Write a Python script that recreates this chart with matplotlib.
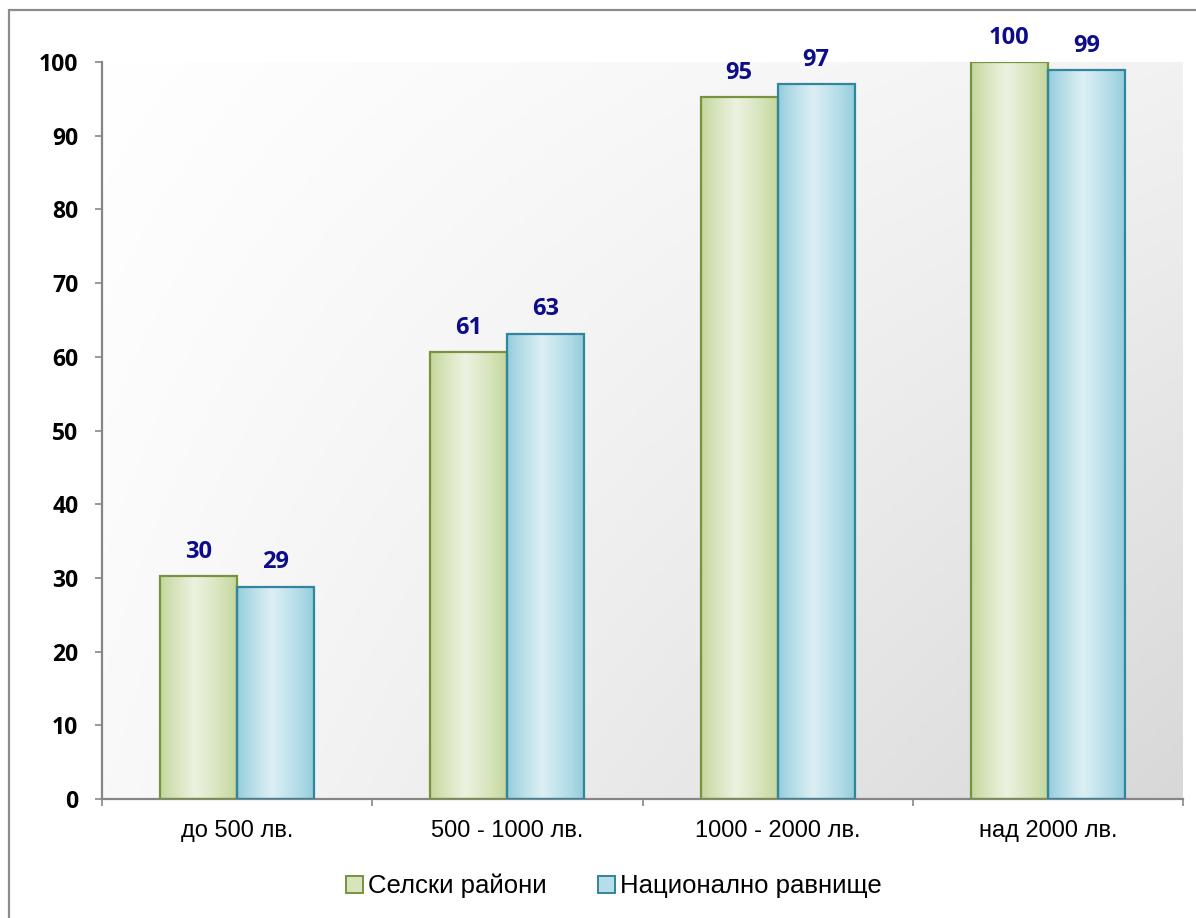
import matplotlib
matplotlib.use("Agg")
import matplotlib.pyplot as plt
import matplotlib.patches as mpatches
import numpy as np

categories = ["до 500 лв.", "500 - 1000 лв.", "1000 - 2000 лв.", "над 2000 лв."]
series_names = ["Селски райони", "Национално равнище"]
rural = [30.2, 60.6, 95.2, 100.0]
national = [28.8, 63.1, 97.0, 98.9]
yticks = [0, 10, 20, 30, 40, 50, 60, 70, 80, 90, 100]

W, H = 1196, 918
fig = plt.figure(figsize=(W / 100, H / 100), dpi=100)
fig.patch.set_facecolor("white")

NUMFONT = ["Open Sans", "DejaVu Sans"]
TXTFONT = ["Liberation Sans", "DejaVu Sans"]

# outer border (only left/top visible)
fig.add_artist(mpatches.Rectangle((9 / W, -0.05), 1.2, 1 - 10 / H + 0.05,
                                  transform=fig.transFigure, fill=False,
                                  edgecolor="#8c8c8c", linewidth=1.6))

left, right, bottom, top = 102 / W, 1183 / W, 1 - 799 / H, 1 - 62 / H
ax = fig.add_axes([left, bottom, right - left, top - bottom])
ax.set_xlim(-0.5, 3.5)
ax.set_ylim(0, 100)

# plot-area gradient background (bilinear)
nx, ny = 200, 200
u = np.linspace(0, 1, nx)[None, :]
v = np.linspace(0, 1, ny)[:, None]  # 0 bottom, 1 top (origin lower)
tl, tr, bl, br = 255, 242, 249, 216
val = (tl * (1 - u) * v + tr * u * v + bl * (1 - u) * (1 - v) + br * u * (1 - v)) / 255.0
bg = np.dstack([val, val, val])
ax.imshow(bg, extent=[-0.5, 3.5, 0, 100], origin="lower", aspect="auto", zorder=0)

x = np.arange(len(categories))
w = 0.285


def grad_img(edge, center, peak=0.45, n=200):
    t = np.linspace(0, 1, n)
    f = np.where(t < peak, t / peak, (1 - t) / (1 - peak))
    f = np.clip(f, 0, 1) ** 0.8
    edge = np.array(edge) / 255.0
    center = np.array(center) / 255.0
    cols = edge[None, :] * (1 - f[:, None]) + center[None, :] * f[:, None]
    return cols[None, :, :]


green_img = grad_img((193, 213, 150), (236, 242, 224))
blue_img = grad_img((143, 203, 220), (220, 239, 244))

series = [
    (rural, -w / 2, green_img, "#77933c", "#d7e4bd"),
    (national, w / 2, blue_img, "#31859c", "#b7dde8"),
]

label_color = "#0d0d8a"
for vals, off, img, ec, legc in series:
    bars = ax.bar(x + off, vals, width=w, facecolor="none", edgecolor=ec,
                  linewidth=1.6, zorder=3)
    for b, val_ in zip(bars, vals):
        bx, bw, bh = b.get_x(), b.get_width(), b.get_height()
        ax.imshow(img, extent=[bx, bx + bw, 0, bh], aspect="auto",
                  origin="lower", zorder=2, interpolation="bilinear")
        ax.annotate(f"{round(val_):.0f}", (bx + bw / 2, bh), xytext=(0, 9),
                    textcoords="offset points", ha="center", va="bottom",
                    fontsize=17, fontweight="bold", color=label_color,
                    family=NUMFONT)

ax.set_xlim(-0.5, 3.5)
ax.set_ylim(0, 100)

for s in ["top", "right"]:
    ax.spines[s].set_visible(False)
for s in ["left", "bottom"]:
    ax.spines[s].set_color("#868686")
    ax.spines[s].set_linewidth(1.6)

ax.set_yticks(yticks)
ax.set_yticklabels([str(t) for t in yticks], fontsize=16.5, fontweight="bold",
                   family=NUMFONT)
ax.tick_params(axis="y", length=5, width=1.2, color="#868686", pad=12)

ax.set_xticks(x)
ax.set_xticklabels(categories, fontsize=17, family=TXTFONT)
ax.set_xticks(np.arange(-0.5, 4.0, 1.0), minor=True)
ax.tick_params(axis="x", which="major", length=0, pad=15)
ax.tick_params(axis="x", which="minor", length=5, width=1.2, color="#868686")

handles = [mpatches.Patch(facecolor=series[0][4], edgecolor=series[0][3], linewidth=1.4),
           mpatches.Patch(facecolor=series[1][4], edgecolor=series[1][3], linewidth=1.4)]
fig.legend(handles, series_names, loc="center", bbox_to_anchor=(614 / W, 1 - 886 / H),
           frameon=False, ncol=2, handlelength=0.65, handleheight=0.65,
           handletextpad=0.2, columnspacing=2.0,
           prop={"family": TXTFONT, "size": 18.5})

fig.savefig("out.png", dpi=100)
